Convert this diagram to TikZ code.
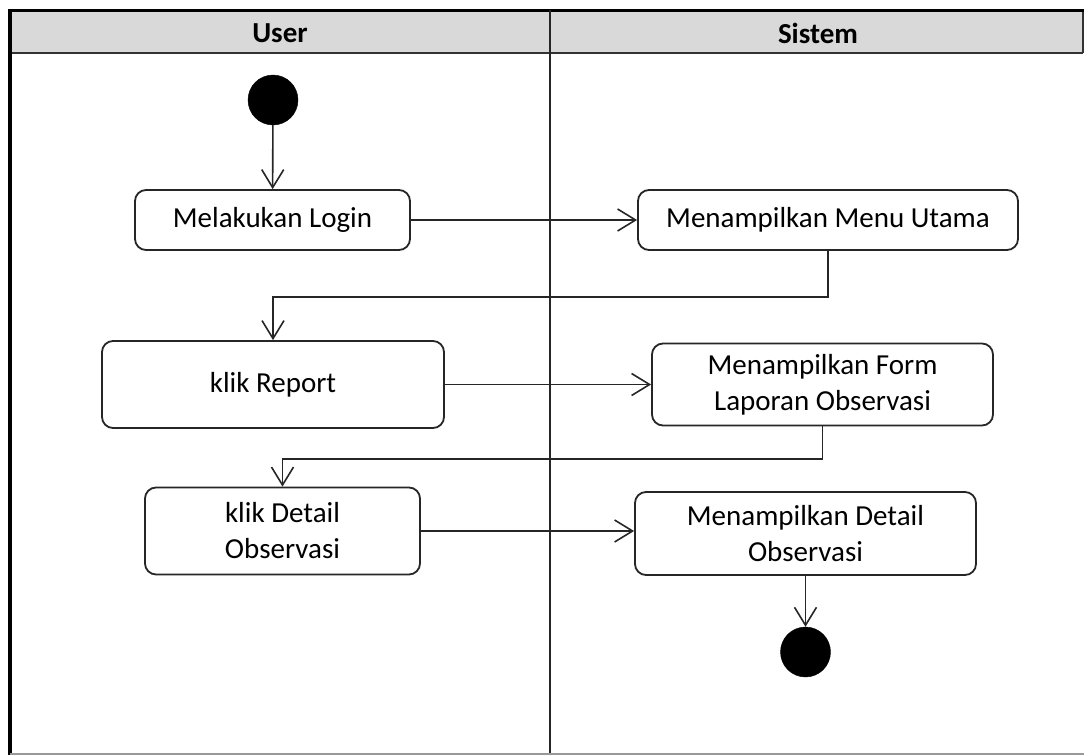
\documentclass[tikz,border=0pt]{standalone}
\usepackage{fontspec}
\setmainfont{Carlito}
\usetikzlibrary{arrows.meta,calc}
\tikzset{
  act/.style={draw=black!85, line width=1.8pt, rounded corners=11pt, inner sep=0pt, align=center,
    font=\fontsize{29}{36}\selectfont},
  dot/.style={circle, fill=black, draw=black, minimum size=50pt, inner sep=0pt},
  arr/.style={draw=black!85, line width=1.6pt, -{Straight Barb[length=18pt,width=22pt,line width=1.6pt]}},
  lane/.style={font=\fontsize{29}{34}\selectfont\bfseries}
}
\begin{document}
\begin{tikzpicture}[x=1pt,y=-1pt]
\useasboundingbox (0,0) rectangle (1084,755);
% header
\fill[black!15] (10,10) rectangle (1083,53);
\draw[line width=2pt, black!80] (10,53) -- (1083,53);
\draw[line width=1.5pt, black!80] (1083,10) -- (1083,53);
\draw[line width=3pt] (10,10) -- (1084,10);
\draw[line width=3.5pt] (10,8.5) -- (10,755);
\draw[line width=1.6pt, black!85] (550,10) -- (550,755);
\draw[line width=1.5pt, black!40] (10,754) -- (1084,754);
\node[lane] (user) at (280,33) {User};
\node[lane] (sistem) at (818,33) {Sistem};
% activities
\node[dot] (start) at (273,100) {};
\node[act, minimum width=275pt, minimum height=60pt] (login) at (272.5,220) {Melakukan Login};
\node[act, minimum width=380pt, minimum height=60pt] (menu) at (828,220) {Menampilkan Menu Utama};
\node[act, minimum width=342pt, minimum height=87pt] (report) at (273,384.5) {klik Report};
\node[act, minimum width=341pt, minimum height=82pt] (form) at (822.5,384.5) {Menampilkan Form\\Laporan Observasi};
\node[act, minimum width=275pt, minimum height=87pt] (detail) at (282.5,531) {klik Detail\\Observasi};
\node[act, minimum width=341pt, minimum height=83pt] (show) at (805.5,533.5) {Menampilkan Detail\\Observasi};
\node[dot] (end) at (805.5,652) {};
% flows
\draw[arr] (start) -- (login);
\draw[arr] (login) -- (menu);
\draw[arr] (menu.south) -- ++(0,46) -| (report.north);
\draw[arr] (report) -- (form);
\draw[arr] (form.south) -- ++(0,32.5) -| (detail.north);
\draw[arr] (detail.east) -- (detail.east -| show.west);
\draw[arr] (show) -- (end);
\end{tikzpicture}
\end{document}
